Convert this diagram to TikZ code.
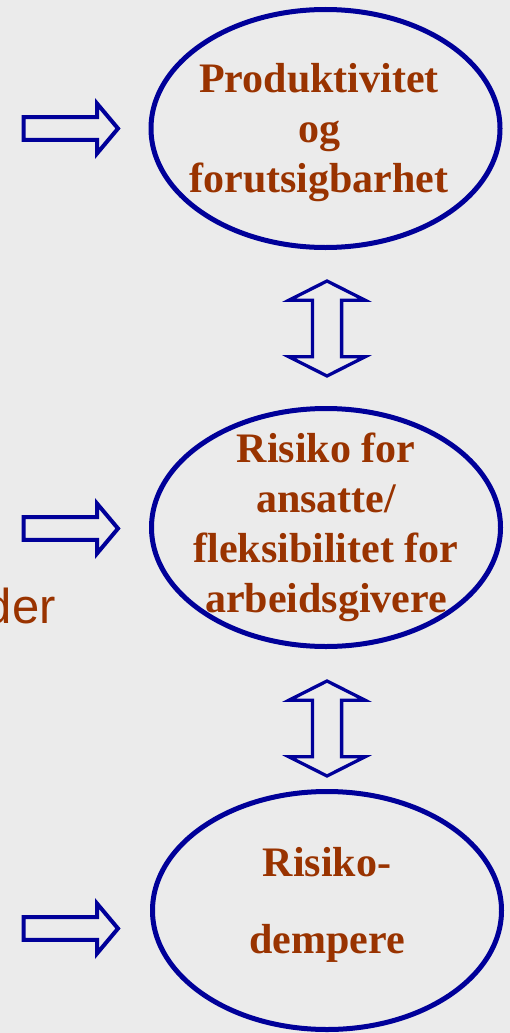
\documentclass[tikz,border=0pt]{standalone}
\usepackage{fontspec}
\setmainfont{Liberation Serif}
\setsansfont{Liberation Sans}
\usetikzlibrary{shapes.geometric}

\definecolor{bgGrey}{HTML}{EBEBEB}
\definecolor{ovalBlue}{HTML}{000099}
\definecolor{textRed}{HTML}{993300}

\tikzset{
  oval/.style={ellipse, draw=ovalBlue, line width=5pt, minimum width=349pt,
    minimum height=238pt, inner sep=0pt},
  ovalText/.style={inner sep=0pt, align=center, text=textRed,
    font=\bfseries\fontsize{42}{50}\selectfont},
  into/.style={draw=ovalBlue, line width=4pt},
  updown/.style={draw=ovalBlue, line width=3.3pt}
}

\begin{document}
\begin{tikzpicture}[x=1pt,y=-1pt]
  \useasboundingbox (0,0) rectangle (510,1033);
  \clip (0,0) rectangle (510,1033);
  \fill[bgGrey] (0,0) rectangle (510,1033);

  % the three ovals
  \node[oval, label={[ovalText, xshift=-6.5pt, yshift=-4.5pt]center:{Produktivitet\\og\\forutsigbarhet}}]
    (prod) at (325.5,128.5) {};
  \node[oval, label={[ovalText]center:{Risiko for\\ansatte/\\fleksibilitet for\\arbeidsgivere}}]
    (risk) at (326,527.5) {};
  \node[oval, label={[ovalText, yshift=5.5pt, font=\bfseries\fontsize{42}{77}\selectfont]center:{Risiko-\\dempere}}]
    (damp) at (327,910.5) {};

  % arrows from the left
  \coordinate (inProd) at (71,128.5);
  \coordinate (inRisk) at (71,528.5);
  \coordinate (inDamp) at (71,928.5);
  \foreach \c in {inProd,inRisk,inDamp}
    \draw[into, shift={(\c)}] (-47.3,-11.3) -- (26,-11.3) -- (26,-25) -- (47,0)
      -- (26,25) -- (26,11.3) -- (-47.3,11.3) -- cycle;

  % arrows between the ovals
  \coordinate (ud1) at (327,328.5);
  \coordinate (ud2) at (327,728.5);
  \foreach \c in {ud1,ud2}
    \draw[updown, shift={(\c)}] (0,-47.5) -- (38,-28.3) -- (14.6,-28.3) -- (14.6,28.3)
      -- (38,28.3) -- (0,47.5) -- (-38,28.3) -- (-14.6,28.3) -- (-14.6,-28.3)
      -- (-38,-28.3) -- cycle;

  \node[anchor=base east, inner sep=0pt, text=textRed,
    font=\sffamily\fontsize{49}{55}\selectfont] (der) at (56,623) {der};
\end{tikzpicture}
\end{document}
